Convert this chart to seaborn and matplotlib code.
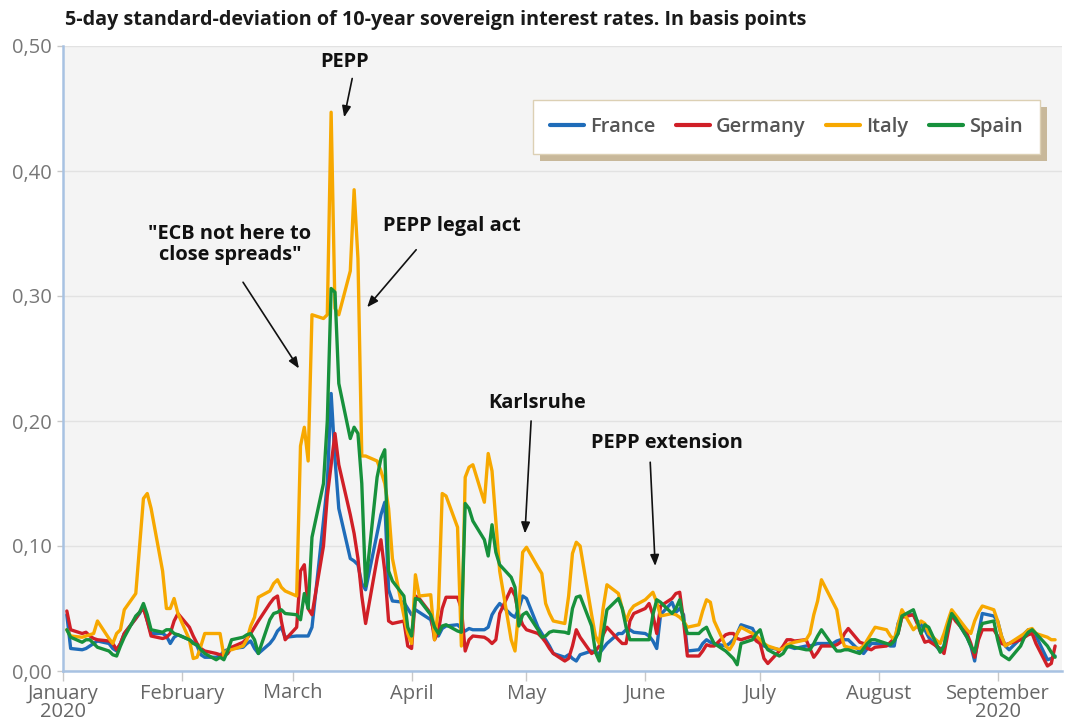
import numpy as np
import pandas as pd
import matplotlib
matplotlib.use("Agg")
import matplotlib.pyplot as plt
import matplotlib.dates as mdates
from matplotlib.patches import Rectangle
import seaborn as sns

# ---------------- data ----------------
countries = ["France", "Germany", "Italy", "Spain"]
colors = ["#1f6cb9", "#d01f27", "#f7a800", "#17913c"]
month_ticks = ["2020-01-01", "2020-02-01", "2020-03-01", "2020-04-01", "2020-05-01",
               "2020-06-01", "2020-07-01", "2020-08-01", "2020-09-01"]
month_labels = ["January\n2020", "February", "March", "April", "May", "June",
                "July", "August", "September\n2020"]
y_ticks = [0.0, 0.1, 0.2, 0.3, 0.4, 0.5]

dates = pd.bdate_range("2020-01-02", "2020-09-16")

france = [
    # Jan
    0.045, 0.018, 0.017, 0.018, 0.020, 0.022, 0.024, 0.022, 0.018, 0.016, 0.022, 0.030, 0.042, 0.046, 0.052, 0.040, 0.030, 0.030, 0.028, 0.022, 0.027, 0.029,
    # Feb
    0.025, 0.023, 0.020, 0.013, 0.011, 0.011, 0.012, 0.016, 0.017, 0.018, 0.019, 0.022, 0.024, 0.018, 0.014, 0.022, 0.026, 0.032, 0.035, 0.027,
    # Mar
    0.028, 0.028, 0.028, 0.028, 0.035, 0.120, 0.150, 0.222, 0.170, 0.130, 0.090, 0.088, 0.085, 0.070, 0.065, 0.110, 0.125, 0.135, 0.065, 0.056, 0.055, 0.050,
    # Apr
    0.045, 0.049, 0.047, 0.041, 0.030, 0.028, 0.034, 0.036, 0.037, 0.034, 0.032, 0.034, 0.033, 0.033, 0.035, 0.045, 0.050, 0.054, 0.045, 0.043, 0.050, 0.060,
    # May
    0.058, 0.035, 0.030, 0.025, 0.020, 0.014, 0.011, 0.013, 0.010, 0.008, 0.013, 0.016, 0.015, 0.014, 0.018, 0.022, 0.030, 0.030, 0.033, 0.033, 0.031,
    # Jun
    0.030, 0.028, 0.024, 0.018, 0.045, 0.055, 0.047, 0.050, 0.045, 0.016, 0.017, 0.022, 0.025, 0.023, 0.022, 0.020, 0.022, 0.025, 0.030, 0.037, 0.034, 0.028,
    # Jul
    0.022, 0.020, 0.019, 0.017, 0.018, 0.020, 0.019, 0.018, 0.020, 0.020, 0.021, 0.022, 0.022, 0.022, 0.024, 0.025, 0.025, 0.025, 0.016, 0.014, 0.018, 0.022, 0.022,
    # Aug
    0.021, 0.020, 0.020, 0.038, 0.045, 0.045, 0.040, 0.037, 0.033, 0.027, 0.016, 0.020, 0.035, 0.045, 0.042, 0.027, 0.020, 0.008, 0.030, 0.046, 0.044,
    # Sep
    0.040, 0.028, 0.020, 0.017, 0.026, 0.030, 0.033, 0.033, 0.028, 0.009, 0.010, 0.012,
]

germany = [
    0.048, 0.033, 0.030, 0.031, 0.028, 0.026, 0.025, 0.024, 0.022, 0.017, 0.022, 0.030, 0.042, 0.047, 0.050, 0.040, 0.028, 0.026, 0.027, 0.030, 0.040, 0.046,
    0.035, 0.028, 0.022, 0.018, 0.016, 0.014, 0.013, 0.012, 0.014, 0.019, 0.023, 0.026, 0.030, 0.035, 0.040, 0.054, 0.058, 0.060, 0.040, 0.025,
    0.035, 0.080, 0.085, 0.050, 0.045, 0.100, 0.140, 0.165, 0.190, 0.165, 0.125, 0.110, 0.090, 0.060, 0.038, 0.090, 0.105, 0.080, 0.040, 0.038, 0.040, 0.020,
    0.018, 0.060, 0.058, 0.046, 0.025, 0.032, 0.050, 0.059, 0.059, 0.050, 0.016, 0.025, 0.028, 0.027, 0.025, 0.022, 0.025, 0.046, 0.066, 0.060, 0.045, 0.037,
    0.033, 0.030, 0.027, 0.023, 0.018, 0.014, 0.008, 0.010, 0.020, 0.033, 0.027, 0.014, 0.016, 0.020, 0.029, 0.035, 0.025, 0.022, 0.022, 0.040, 0.046,
    0.050, 0.054, 0.045, 0.030, 0.052, 0.058, 0.062, 0.063, 0.040, 0.012, 0.012, 0.016, 0.021, 0.020, 0.020, 0.029, 0.030, 0.030, 0.026, 0.025, 0.028, 0.024,
    0.022, 0.010, 0.006, 0.016, 0.020, 0.025, 0.025, 0.024, 0.025, 0.018, 0.011, 0.015, 0.020, 0.020, 0.021, 0.023, 0.030, 0.034, 0.023, 0.022, 0.018, 0.017, 0.019,
    0.020, 0.023, 0.026, 0.030, 0.043, 0.045, 0.038, 0.030, 0.023, 0.024, 0.018, 0.014, 0.030, 0.045, 0.040, 0.030, 0.022, 0.011, 0.025, 0.033, 0.033,
    0.028, 0.022, 0.021, 0.022, 0.025, 0.027, 0.029, 0.030, 0.022, 0.004, 0.006, 0.020,
]

italy = [
    0.033, 0.028, 0.027, 0.028, 0.029, 0.030, 0.040, 0.026, 0.022, 0.030, 0.033, 0.049, 0.062, 0.100, 0.138, 0.142, 0.130, 0.080, 0.050, 0.050, 0.058, 0.046,
    0.025, 0.010, 0.011, 0.020, 0.030, 0.030, 0.030, 0.012, 0.017, 0.017, 0.020, 0.025, 0.036, 0.043, 0.059, 0.064, 0.070, 0.073, 0.067, 0.064,
    0.060, 0.180, 0.195, 0.168, 0.285, 0.282, 0.285, 0.447, 0.290, 0.285, 0.320, 0.385, 0.330, 0.172, 0.172, 0.168, 0.160, 0.150, 0.130, 0.090, 0.044, 0.030,
    0.022, 0.077, 0.060, 0.061, 0.025, 0.050, 0.142, 0.140, 0.115, 0.020, 0.155, 0.163, 0.165, 0.135, 0.174, 0.160, 0.120, 0.080, 0.025, 0.016, 0.050, 0.095,
    0.099, 0.083, 0.078, 0.054, 0.046, 0.040, 0.038, 0.060, 0.094, 0.103, 0.100, 0.045, 0.028, 0.022, 0.050, 0.069, 0.062, 0.050, 0.040, 0.048, 0.052,
    0.057, 0.060, 0.063, 0.055, 0.044, 0.046, 0.045, 0.043, 0.040, 0.035, 0.037, 0.048, 0.057, 0.055, 0.040, 0.020, 0.017, 0.022, 0.030, 0.035, 0.030, 0.028,
    0.025, 0.022, 0.020, 0.017, 0.018, 0.021, 0.022, 0.023, 0.025, 0.030, 0.045, 0.056, 0.073, 0.055, 0.049, 0.030, 0.020, 0.019, 0.018, 0.020, 0.025, 0.030, 0.035,
    0.033, 0.028, 0.025, 0.037, 0.049, 0.033, 0.036, 0.040, 0.038, 0.030, 0.022, 0.030, 0.040, 0.049, 0.045, 0.033, 0.030, 0.040, 0.047, 0.052, 0.049,
    0.040, 0.028, 0.020, 0.022, 0.028, 0.030, 0.033, 0.034, 0.030, 0.027, 0.025, 0.025,
]

spain = [
    0.033, 0.027, 0.023, 0.025, 0.025, 0.022, 0.019, 0.016, 0.013, 0.012, 0.020, 0.027, 0.044, 0.047, 0.054, 0.045, 0.033, 0.031, 0.033, 0.033, 0.030, 0.029,
    0.025, 0.022, 0.021, 0.017, 0.014, 0.009, 0.011, 0.009, 0.016, 0.025, 0.027, 0.029, 0.030, 0.025, 0.014, 0.041, 0.046, 0.047, 0.049, 0.046,
    0.045, 0.041, 0.062, 0.050, 0.107, 0.150, 0.200, 0.306, 0.303, 0.230, 0.186, 0.195, 0.190, 0.150, 0.068, 0.155, 0.170, 0.177, 0.080, 0.072, 0.060, 0.035,
    0.028, 0.058, 0.057, 0.045, 0.035, 0.030, 0.036, 0.037, 0.032, 0.031, 0.134, 0.130, 0.120, 0.105, 0.092, 0.117, 0.095, 0.085, 0.075, 0.067, 0.036, 0.045,
    0.047, 0.033, 0.027, 0.028, 0.031, 0.032, 0.031, 0.030, 0.050, 0.059, 0.060, 0.036, 0.015, 0.008, 0.030, 0.049, 0.058, 0.050, 0.035, 0.025, 0.025,
    0.025, 0.025, 0.045, 0.057, 0.055, 0.046, 0.050, 0.057, 0.040, 0.030, 0.030, 0.033, 0.035, 0.028, 0.022, 0.016, 0.013, 0.010, 0.005, 0.022, 0.025, 0.030,
    0.033, 0.022, 0.017, 0.012, 0.014, 0.019, 0.020, 0.019, 0.017, 0.017, 0.022, 0.028, 0.033, 0.020, 0.016, 0.016, 0.017, 0.017, 0.014, 0.018, 0.022, 0.025, 0.025,
    0.022, 0.021, 0.024, 0.030, 0.044, 0.049, 0.040, 0.030, 0.037, 0.035, 0.015, 0.020, 0.035, 0.046, 0.042, 0.027, 0.020, 0.015, 0.030, 0.038, 0.040,
    0.025, 0.013, 0.011, 0.009, 0.020, 0.027, 0.031, 0.033, 0.030, 0.020, 0.015, 0.011,
]

title = "5-day standard-deviation of 10-year sovereign interest rates. In basis points"

# annotations: text, text position (days after 1 Jan, value), arrow tail, arrow tip
ann_texts = ["PEPP", "\"ECB not here to\nclose spreads\"", "PEPP legal act", "Karlsruhe", "PEPP extension"]
ann_text_pos = [(73.6, 0.487), (43.6, 0.341), (101.6, 0.356), (123.8, 0.2144), (157.7, 0.1824)]
ann_tail = [(75.5, 0.474), (47.0, 0.311), (92.2, 0.337), (122.2, 0.200), (153.3, 0.167)]
ann_tip = [(73.4, 0.443), (61.6, 0.242), (79.4, 0.291), (120.6, 0.110), (154.6, 0.084)]

# ---------------- plot ----------------
sns.set_theme(style="white")
plt.rcParams["font.family"] = ["Open Sans", "DejaVu Sans"]

df = pd.concat([
    pd.DataFrame({"date": dates, "value": vals, "country": c})
    for c, vals in zip(countries, [france, germany, italy, spain])
], ignore_index=True)

fig = plt.figure(figsize=(10.68, 7.24), dpi=100)
ax = fig.add_axes([63 / 1068, 53 / 724, 999 / 1068, 625 / 724])
ax.set_facecolor("#f4f4f4")

sns.lineplot(data=df, x="date", y="value", hue="country", hue_order=countries,
             palette=colors, linewidth=2.4, ax=ax, legend=True)

start = pd.Timestamp("2020-01-01")
def dnum(day):
    return mdates.date2num(start + pd.Timedelta(days=day))

ax.set_xlim(dnum(0), dnum(260.8))
ax.set_ylim(0, 0.5)

ax.set_xticks([mdates.date2num(pd.Timestamp(t)) for t in month_ticks])
ax.set_xticklabels(month_labels)
ax.set_yticks(y_ticks)
ax.set_yticklabels([f"{v:.2f}".replace(".", ",") for v in y_ticks])
ax.set_xlabel("")
ax.set_ylabel("")

ax.grid(axis="y", color="#e2e2e2", linewidth=1)
ax.grid(axis="x", visible=False)
for s in ["top", "right"]:
    ax.spines[s].set_visible(False)
for s in ["left", "bottom"]:
    ax.spines[s].set_color("#a8c2e2")
    ax.spines[s].set_linewidth(1.8)

ax.tick_params(axis="x", length=7, width=1, color="#c8c8c8", labelcolor="#666666",
               labelsize=14.5, pad=2, bottom=True)
ax.tick_params(axis="y", length=4, width=1, color="#c8c8c8", labelcolor="#777777",
               labelsize=14.5, pad=4, left=True)
for lab in ax.get_xticklabels():
    lab.set_linespacing(0.9)

# legend
handles, labels = ax.get_legend_handles_labels()
leg = ax.legend(handles, labels, ncol=4, loc="upper left",
                bbox_to_anchor=(0.470, 0.8256, 0.508, 0.088), mode="expand",
                borderaxespad=0,
                frameon=True, fancybox=False, facecolor="white", framealpha=1,
                edgecolor="#dcd0b4", handlelength=1.7, handletextpad=0.3,
                borderpad=0.85, columnspacing=0.9,
                prop={"size": 14.5, "weight": "semibold"}, labelcolor="#555555")
for ln in leg.get_lines():
    ln.set_linewidth(3)
leg.set_zorder(6)

fig.canvas.draw()
bb = leg.get_window_extent()
inv = ax.transAxes.inverted()
(x0, y0) = inv.transform((bb.x0 + 7, bb.y0 - 7))
(x1, y1) = inv.transform((bb.x1 + 7, bb.y1 - 7))
ax.add_patch(Rectangle((x0, y0), x1 - x0, y1 - y0, transform=ax.transAxes,
                       facecolor="#c8b89a", edgecolor="none", zorder=5.5, clip_on=False))

# annotations
for txt, tp, tail, tip in zip(ann_texts, ann_text_pos, ann_tail, ann_tip):
    ax.text(dnum(tp[0]), tp[1], txt, ha="center", va="center", fontsize=14.4,
            fontweight="bold", color="#111111", linespacing=1.05, zorder=7)
    ax.annotate("", xy=(dnum(tip[0]), tip[1]), xytext=(dnum(tail[0]), tail[1]),
                arrowprops=dict(arrowstyle="-|>,head_length=0.55,head_width=0.22",
                                color="#111111", lw=1.2, shrinkA=0, shrinkB=0),
                zorder=7)

fig.text(65 / 1068, 1 - 20 / 724, title, ha="left", va="center", fontsize=14.2,
         fontweight="bold", color="#1a1a1a")

fig.savefig("out.png", dpi=100, facecolor="white")
